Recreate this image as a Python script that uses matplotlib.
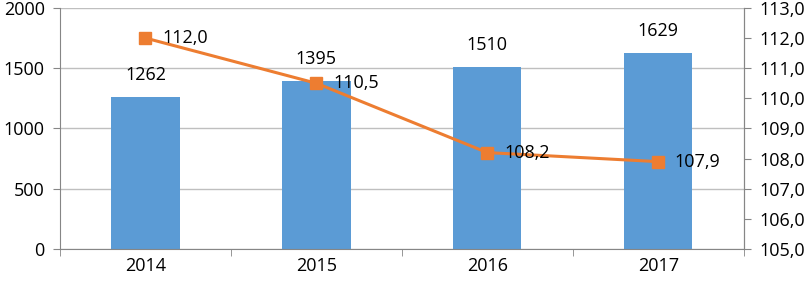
import matplotlib
matplotlib.use("Agg")
from matplotlib import pyplot as plt

years = ['2014', '2015', '2016', '2017']
volumes = [1262, 1395, 1510, 1629]
index_values = [112.0, 110.5, 108.2, 107.9]

bar_color = '#5B9BD5'
line_color = '#ED7D31'
axis_gray = '#868686'
grid_gray = '#BFBFBF'

plt.rcParams['font.family'] = ['Open Sans', 'DejaVu Sans']
plt.rcParams['font.size'] = 13

fig = plt.figure(figsize=(8.11, 2.83), dpi=100)
ax = fig.add_axes([0.074, 0.120, 0.843, 0.852])
x = list(range(len(years)))

ax.bar(x, volumes, width=0.4, color=bar_color, zorder=2)
ax.set_ylim(0, 2000)
ax.set_yticks([0, 500, 1000, 1500, 2000])
ax.set_xlim(-0.5, len(years) - 0.5)
ax.set_xticks(x)
ax.set_xticklabels(years)
ax.set_xticks([i - 0.5 for i in range(len(years) + 1)], minor=True)
ax.tick_params(axis='x', which='major', length=0, pad=6)
ax.tick_params(axis='x', which='minor', length=5, color=axis_gray)
ax.tick_params(axis='y', length=5, color=axis_gray, pad=6)
ax.yaxis.grid(True, color=grid_gray, linewidth=1, zorder=0)
ax.set_axisbelow(True)
ax.spines['top'].set_visible(False)
for side in ['left', 'bottom', 'right']:
    ax.spines[side].set_color(axis_gray)

for xi, v in zip(x, volumes):
    ax.annotate(str(v), (xi, v), xytext=(0, 9), textcoords='offset points',
                ha='center', va='bottom')

ax2 = ax.twinx()
ax2.plot(x, index_values, color=line_color, linewidth=2.2, marker='s',
         markersize=8, zorder=3)
ax2.set_ylim(105, 113)
ax2.set_yticks([105 + i for i in range(9)])
ax2.set_yticklabels([f'{105 + i},0' for i in range(9)])
ax2.tick_params(axis='y', length=5, color=axis_gray, pad=6)
for side in ['top', 'left', 'bottom']:
    ax2.spines[side].set_visible(False)
ax2.spines['right'].set_color(axis_gray)

for xi, v in zip(x, index_values):
    ax2.annotate(f'{v:.1f}'.replace('.', ','), (xi, v), xytext=(12, 0),
                 textcoords='offset points', ha='left', va='center')

fig.savefig('out.png', dpi=100)
